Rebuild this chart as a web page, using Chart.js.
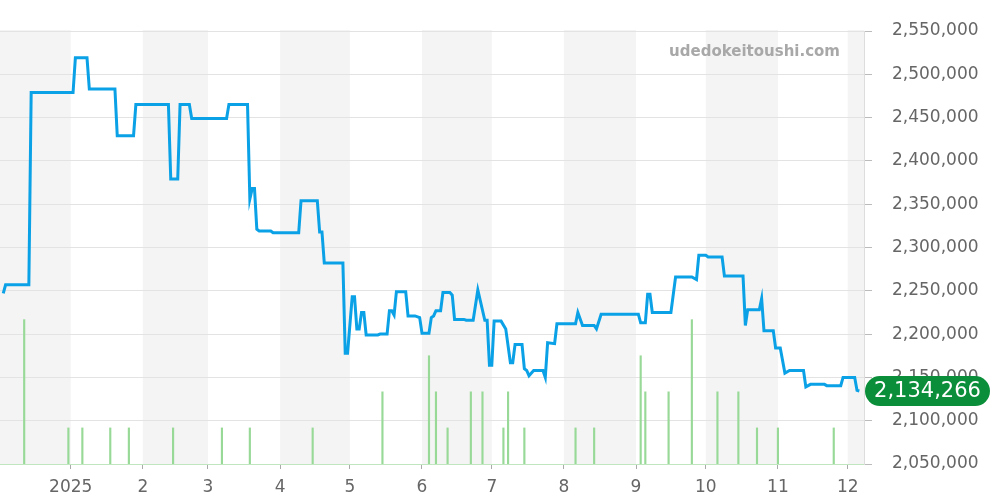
<!DOCTYPE html>
<html><head><meta charset="utf-8">
<script src="https://cdn.jsdelivr.net/npm/chart.js@4"></script>
<style>html,body{margin:0;padding:0;background:#fff}#wrap{width:1000px;height:500px;position:relative}</style>
</head><body><div id="wrap"><canvas id="c" width="1000" height="500"></canvas></div>
<script>
const priceDates = [
'2024-12-03','2024-12-04','2024-12-14','2024-12-15','2025-01-02','2025-01-03','2025-01-08','2025-01-09','2025-01-20','2025-01-21',
'2025-01-28','2025-01-29','2025-02-12','2025-02-13','2025-02-16','2025-02-17','2025-02-21','2025-02-22','2025-03-09','2025-03-10',
'2025-03-18','2025-03-19','2025-03-20','2025-03-21','2025-03-22','2025-03-23','2025-03-28','2025-03-29','2025-04-09','2025-04-10',
'2025-04-17','2025-04-18','2025-04-19','2025-04-20','2025-04-28','2025-04-29','2025-04-30','2025-05-02','2025-05-03','2025-05-04',
'2025-05-05','2025-05-06','2025-05-07','2025-05-08','2025-05-13','2025-05-14','2025-05-17','2025-05-18','2025-05-19','2025-05-20',
'2025-05-21','2025-05-25','2025-05-26','2025-05-29','2025-05-31','2025-06-01','2025-06-04','2025-06-05','2025-06-06','2025-06-07',
'2025-06-09','2025-06-10','2025-06-13','2025-06-14','2025-06-15','2025-06-19','2025-06-20','2025-06-23','2025-06-25','2025-06-28',
'2025-06-29','2025-06-30','2025-07-01','2025-07-02','2025-07-05','2025-07-07','2025-07-09','2025-07-10','2025-07-11','2025-07-14',
'2025-07-15','2025-07-16','2025-07-17','2025-07-19','2025-07-23','2025-07-24','2025-07-25','2025-07-28','2025-07-29','2025-08-06',
'2025-08-07','2025-08-09','2025-08-14','2025-08-15','2025-08-17','2025-09-02','2025-09-03','2025-09-05','2025-09-06','2025-09-07',
'2025-09-08','2025-09-16','2025-09-18','2025-09-25','2025-09-27','2025-09-28','2025-10-01','2025-10-02','2025-10-08','2025-10-09',
'2025-10-17','2025-10-18','2025-10-19','2025-10-24','2025-10-25','2025-10-26','2025-10-30','2025-10-31','2025-11-02','2025-11-04',
'2025-11-06','2025-11-12','2025-11-13','2025-11-15','2025-11-21','2025-11-22','2025-11-28','2025-11-29','2025-12-04','2025-12-05',
'2025-12-06'];
const prices = [
2247000,2257000,2257000,2479000,2479000,2519000,2519000,2483000,2483000,2429000,
2429000,2465000,2465000,2379000,2379000,2465000,2465000,2449000,2449000,2465000,
2465000,2356000,2368000,2368000,2321000,2319000,2319000,2317000,2317000,2354000,
2354000,2318000,2318000,2282000,2282000,2178000,2178000,2243000,2243000,2206000,
2206000,2225000,2225000,2199000,2199000,2200000,2200000,2227000,2227000,2222000,
2249000,2249000,2221000,2221000,2219000,2201000,2201000,2219000,2221000,2227000,
2227000,2248000,2248000,2245000,2217000,2217000,2216000,2216000,2251000,2216000,
2216000,2164000,2164000,2215000,2215000,2206000,2167000,2167000,2188000,2188000,
2160000,2158000,2152000,2158000,2158000,2150000,2190000,2189000,2212000,2212000,
2225000,2210000,2210000,2206000,2223000,2223000,2213000,2213000,2246000,2246000,
2225000,2225000,2266000,2266000,2263000,2291000,2291000,2289000,2289000,2267000,
2267000,2210000,2228000,2228000,2241000,2204000,2204000,2184000,2184000,2155000,
2158000,2158000,2139000,2142000,2142000,2140500,2140500,2150000,2150000,2135000,
2134266];
const volumeDates = ['2024-12-12','2024-12-31','2025-01-06','2025-01-18','2025-01-26','2025-02-14','2025-03-07','2025-03-19','2025-04-15','2025-05-15',
'2025-06-04','2025-06-07','2025-06-12','2025-06-22','2025-06-27','2025-07-06','2025-07-08','2025-07-15','2025-08-06','2025-08-14',
'2025-09-03','2025-09-05','2025-09-15','2025-09-25','2025-10-06','2025-10-15','2025-10-23','2025-11-01','2025-11-25'];
const volumes = [4,1,1,1,1,1,1,1,1,2, 3,2,1,2,2,1,2,1,1,1, 3,2,2,4,2,2,1,1,1];
const monthTickDates = ['2025-01-01','2025-02-01','2025-03-01','2025-04-01','2025-05-01','2025-06-01','2025-07-01','2025-08-01','2025-09-01','2025-10-01','2025-11-01','2025-12-01'];
const monthTickLabels = ['2025','2','3','4','5','6','7','8','9','10','11','12'];
const shadeBoundaryDates = ['2024-12-01','2025-01-01','2025-02-01','2025-03-01','2025-04-01','2025-05-01','2025-06-01','2025-07-01','2025-08-01','2025-09-01','2025-10-01','2025-11-01','2025-12-01','2026-01-01'];
const watermarkText = 'udedokeitoushi.com';

const EPOCH = Date.UTC(2025,0,1);
function dayNum(s){const p=s.split('-').map(Number);return (Date.UTC(p[0],p[1]-1,p[2])-EPOCH)/86400000;}
const fmt = v => Number(v).toLocaleString('en-US');

Chart.defaults.font.family = "'DejaVu Sans', sans-serif";

const shadePlugin = {
  id:'shade',
  beforeDraw(chart){
    const {ctx, chartArea:a, scales:{x}} = chart;
    ctx.save();
    ctx.fillStyle = '#f4f4f4';
    for(let i=0;i<shadeBoundaryDates.length-1;i+=2){
      let l = x.getPixelForValue(dayNum(shadeBoundaryDates[i]));
      let r = x.getPixelForValue(dayNum(shadeBoundaryDates[i+1]));
      l = Math.max(l, a.left); r = Math.min(r, a.right);
      if(r>l) ctx.fillRect(l, a.top-1, r-l, a.bottom-a.top+1);
    }
    ctx.restore();
  }
};
const overlayPlugin = {
  id:'overlay',
  afterDraw(chart){
    const {ctx, chartArea:a, scales:{y}} = chart;
    ctx.save();
    ctx.font = "bold 15px 'DejaVu Sans'";
    ctx.fillStyle = '#a8a8a8';
    ctx.textAlign = 'right';
    ctx.textBaseline = 'middle';
    ctx.fillText(watermarkText, a.right-24, 52);
    const last = prices[prices.length-1];
    const py = y.getPixelForValue(last);
    const bx = a.right+1, bw = 125, bh = 30, by = py - bh/2, r = 15;
    ctx.fillStyle = '#0b8e3a';
    ctx.beginPath();
    ctx.moveTo(bx+r, by);
    ctx.lineTo(bx+bw-r, by);
    ctx.arc(bx+bw-r, by+r, r, -Math.PI/2, Math.PI/2);
    ctx.lineTo(bx+r, by+bh);
    ctx.arc(bx+r, by+r, r, Math.PI/2, Math.PI*1.5);
    ctx.closePath();
    ctx.fill();
    ctx.fillStyle = '#fff';
    ctx.font = "21px 'DejaVu Sans'";
    ctx.textAlign = 'center';
    ctx.fillText(fmt(last), bx+bw/2, py+1);
    ctx.restore();
  }
};

new Chart(document.getElementById('c'), {
  type:'line',
  data:{
    datasets:[
      {type:'line', data: priceDates.map((d,i)=>({x:dayNum(d), y:prices[i]})), borderColor:'#0aa1e6', borderWidth:3, pointRadius:0, tension:0, fill:false, yAxisID:'y', order:0},
      {type:'bar', data: volumeDates.map((d,i)=>({x:dayNum(d), y:volumes[i]})), backgroundColor:'#98d998', barThickness:1.5, yAxisID:'yv', order:1}
    ]
  },
  options:{
    responsive:false, animation:false,
    layout:{padding:{top:31, left:0, right:0, bottom:0}},
    plugins:{legend:{display:false}, tooltip:{enabled:false}},
    scales:{
      x:{type:'linear', min:-30.4, max:341, offset:false,
        grid:{display:true, offset:false, drawOnChartArea:false, drawTicks:true, tickLength:5, tickColor:'#aaa'},
        border:{display:true, color:'#bfe6bf'},
        ticks:{autoSkip:false, maxRotation:0, padding:8, color:'#666', font:{size:17},
          callback:(v)=>{const i=monthTickDates.findIndex(d=>dayNum(d)===v);return i>=0?monthTickLabels[i]:'';}},
        afterBuildTicks:(s)=>{s.ticks = monthTickDates.map(d=>({value:dayNum(d)}));},
        afterFit:(s)=>{s.height=36;}
      },
      y:{position:'right', min:2050000, max:2550000,
        ticks:{stepSize:50000, padding:20, color:'#666', font:{size:17}, callback:(v)=>fmt(v)},
        grid:{color:'#e3e3e3', tickLength:8, tickColor:'#bbb'},
        border:{color:'#ddd'},
        afterFit:(s)=>{s.width=136;}
      },
      yv:{display:false, min:0, max:12}
    }
  },
  plugins:[shadePlugin, overlayPlugin]
});
</script></body></html>
